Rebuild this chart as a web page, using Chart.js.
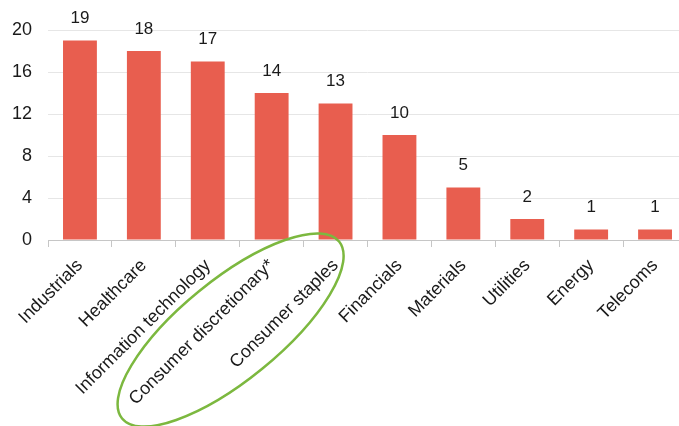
<!DOCTYPE html>
<html>
<head>
<meta charset="utf-8">
<script src="https://cdn.jsdelivr.net/npm/chart.js@4"></script>
<style>
  html, body { margin: 0; padding: 0; background: #fff; overflow: hidden; }
  .wrap { width: 687px; height: 426px; }
</style>
</head>
<body>
<div class="wrap"><canvas id="sectorChart"></canvas></div>
<script>
// Data
const categories = ['Industrials', 'Healthcare', 'Information technology', 'Consumer discretionary*',
  'Consumer staples', 'Financials', 'Materials', 'Utilities', 'Energy', 'Telecoms'];
const counts = [19, 18, 17, 14, 13, 10, 5, 2, 1, 1];
const yTicks = [0, 4, 8, 12, 16, 20];
const circled = [3, 4]; // the two consumer sectors

// Value labels above the bars
const valueLabels = {
  id: 'valueLabels',
  afterDatasetsDraw(chart) {
    const ctx = chart.ctx;
    const meta = chart.getDatasetMeta(0);
    ctx.save();
    ctx.font = '17px "Liberation Sans", Arial, sans-serif';
    ctx.fillStyle = '#1a1a1a';
    ctx.textAlign = 'center';
    ctx.textBaseline = 'middle';
    meta.data.forEach((bar, i) => {
      ctx.fillText(counts[i], bar.x, bar.y - 22);
    });
    ctx.restore();
  }
};

// Green ring round the consumer labels
const ring = {
  id: 'ring',
  afterDraw(chart) {
    const ctx = chart.ctx;
    const x = chart.scales.x;
    const cx = (x.getPixelForValue(circled[0]) + x.getPixelForValue(circled[1])) / 2 - 73;
    const cy = chart.chartArea.bottom + 90;
    ctx.save();
    ctx.strokeStyle = '#7cb83f';
    ctx.lineWidth = 2.5;
    ctx.beginPath();
    ctx.ellipse(cx, cy, 140, 50, -0.684, 0, Math.PI * 2);
    ctx.stroke();
    ctx.restore();
  }
};

const ctx = document.getElementById('sectorChart').getContext('2d');
const sectorChart = new Chart(ctx, {
  type: 'bar',
  data: {
    labels: categories,
    datasets: [{
      data: counts,
      backgroundColor: '#e85e4f',
      barPercentage: 0.53,
      categoryPercentage: 1
    }]
  },
  options: {
    responsive: true,
    maintainAspectRatio: false,
    animation: false,
    layout: { padding: { top: 30, right: 0, left: 0, bottom: 0 } },
    plugins: {
      legend: { display: false },
      tooltip: { enabled: false }
    },
    scales: {
      x: {
        afterFit(axis) {
          axis.height = 186;
          axis.paddingLeft = 0;
          axis.paddingRight = 0;
        },
        grid: {
          offset: true,
          drawOnChartArea: false,
          tickLength: 7,
          color: '#c6c6c6'
        },
        border: { color: '#c6c6c6' },
        ticks: {
          color: '#1a1a1a',
          font: { family: '"Liberation Sans", Arial, sans-serif', size: 18 },
          minRotation: 45,
          maxRotation: 45,
          autoSkip: false,
          padding: 8
        }
      },
      y: {
        min: 0,
        max: 20,
        afterBuildTicks(axis) {
          axis.ticks = yTicks.map(v => ({ value: v }));
        },
        afterFit(axis) { axis.width = 48; },
        grid: { color: '#e6e6e6', drawTicks: false },
        border: { display: false },
        ticks: {
          color: '#1a1a1a',
          font: { family: '"Liberation Sans", Arial, sans-serif', size: 18 },
          padding: 16
        }
      }
    }
  },
  plugins: [valueLabels, ring]
});
</script>
</body>
</html>
